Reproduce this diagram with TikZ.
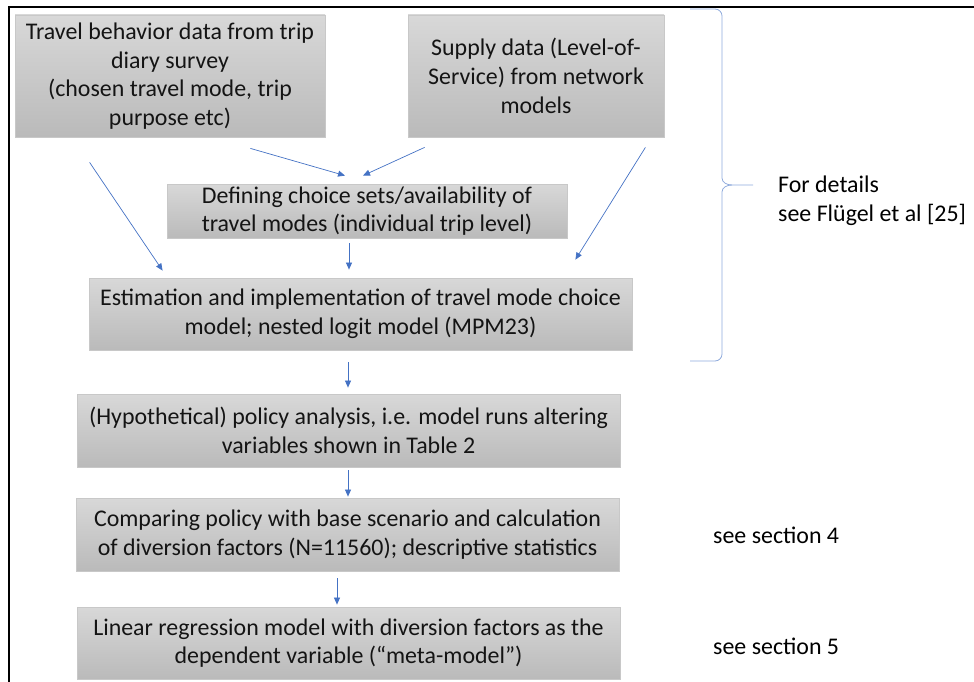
\documentclass[tikz,border=0pt]{standalone}
\usepackage{fontspec}
\setmainfont{Carlito}
\usetikzlibrary{arrows.meta,calc}
\definecolor{arrowblue}{RGB}{68,114,196}
\definecolor{braceblue}{RGB}{143,170,220}
\definecolor{boxtop}{RGB}{216,216,216}
\definecolor{boxbottom}{RGB}{186,186,186}
\definecolor{boxline}{RGB}{200,200,200}
\definecolor{textgray}{RGB}{20,20,20}
\begin{document}
\begin{tikzpicture}[x=1pt,y=-1pt,>={Triangle[length=7pt,width=6pt]},
    box/.style={draw=boxline,line width=0.8pt,top color=boxtop,bottom color=boxbottom,
      inner sep=0pt,align=center,text=textgray,font=\fontsize{23.9}{28.7}\selectfont},
    flow/.style={->,draw=arrowblue,line width=0.7pt},
    note/.style={anchor=west,align=left,inner sep=0pt,font=\fontsize{23.9}{29.5}\selectfont}]
   \useasboundingbox (0,0) rectangle (974,682);
   % 枠
   \draw[line width=2pt] (9,682) -- (9,7) -- (974,7);

   % 箱
   \node[box,minimum width=310pt,minimum height=122pt] (survey) at (170,76)
      {Travel behavior data from trip\\diary survey\\(chosen travel mode, trip\\purpose etc)};
   \node[box,minimum width=256pt,minimum height=122pt] (supply) at (536,76)
      {Supply data (Level-of-\\Service) from network\\models};
   \node[box,minimum width=400pt,minimum height=54pt] (choiceset) at (367,211)
      {Defining choice sets/availability of\\travel modes (individual trip level)};
   \node[box,minimum width=543pt,minimum height=72pt] (estimation) at (360.5,314)
      {Estimation and implementation of travel mode choice\\model; nested logit model (MPM23)};
   \node[box,minimum width=543pt,minimum height=73pt] (policy) at (348.5,430.5)
      {(Hypothetical) policy analysis, i.e. model runs altering\\variables shown in Table 2};
   \node[box,minimum width=543pt,minimum height=73pt] (compare) at (347.5,534.5)
      {Comparing policy with base scenario and calculation\\of diversion factors (N=11560); descriptive statistics};
   \node[box,minimum width=543pt,minimum height=72pt] (metamodel) at (348.5,643)
      {Linear regression model with diversion factors as the\\dependent variable (“meta-model”)};

   % 矢印
   \draw[flow] ($(survey.south east)+(-75,11)$) -- ($(choiceset.north)+(-22,-8)$);
   \draw[flow] ($(supply.south west)+(17,10)$) -- ($(choiceset.north)+(-4,-8)$);
   \draw[flow] ($(survey.south west)+(75,25)$) -- ($(estimation.north west)+(74,-7)$);
   \draw[flow] ($(supply.south east)+(-19,10)$) -- ($(estimation.north east)+(-57,-18)$);
   \draw[flow] ($(choiceset.south)+(-18,5)$) -- ($(estimation.north)+(-11.5,-8)$);
   \draw[flow] ($(estimation.south)+(-12.5,12)$) -- ($(policy.north)+(-0.5,-6)$);
   \draw[flow] ($(policy.south)+(-0.5,3)$) -- ($(compare.north)+(0.5,-1)$);
   \draw[flow] ($(compare.south)+(-10.5,7)$) -- ($(metamodel.north)+(-11.5,-2)$);

   % 括弧と注記
   \draw[braceblue,line width=0.8pt] (690,9) -- (715,9) to[out=0,in=90] (722,16)
      -- (722,178) to[out=-90,in=180] (732,185) -- (753,185);
   \draw[braceblue,line width=0.8pt] (732,185) to[out=180,in=90] (722,192)
      -- (722,354) to[out=-90,in=0] (715,361) -- (690,361);
   \node[note] (details) at (778,201) {For details\\see Flügel et al [25]};
   \node[note] (section4) at (713,535) {see section 4};
   \node[note] (section5) at (713,646) {see section 5};
\end{tikzpicture}
\end{document}
